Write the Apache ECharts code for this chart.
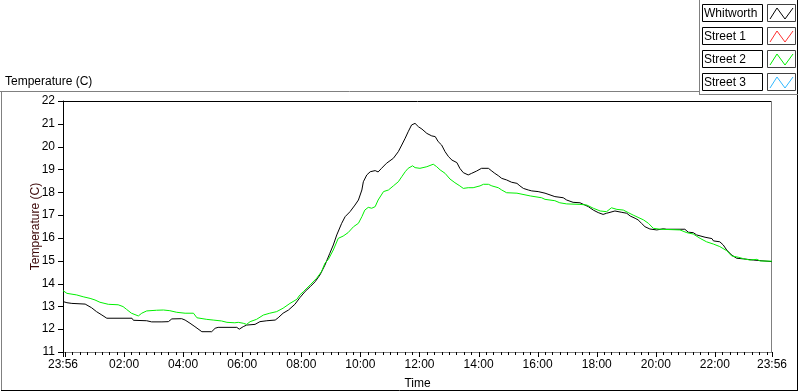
<!DOCTYPE html>
<html>
<head>
<meta charset="utf-8">
<script src="https://cdn.jsdelivr.net/npm/echarts@6/dist/echarts.min.js"></script>
<style>
html,body{margin:0;padding:0;background:#fff;}
#chart{width:800px;height:392px;}
</style>
</head>
<body>
<div id="chart"></div>
<script>
// ---------------- DATA ----------------
const seriesNames = ['Whitworth', 'Street 1', 'Street 2', 'Street 3'];

// time in minutes after 00:00 (axis runs from 23:56 the day before to 23:56)
const whitworthTime = [-4,4,14,41,54,64,75,85,136,139,166,176,197,210,217,237,244,254,264,278,298,305,311,349,354,362,369,386,396,410,427,433,443,454,467,477,488,498,508,518,528,538,545,552,562,569,579,589,596,603,606,613,620,630,636,643,653,667,677,684,691,697,704,711,718,725,735,745,752,758,765,772,779,786,796,802,809,819,826,836,846,860,867,873,880,887,897,907,918,924,931,941,948,961,975,978,995,1012,1019,1032,1046,1053,1063,1073,1083,1093,1100,1107,1117,1131,1141,1148,1158,1164,1171,1178,1188,1202,1215,1222,1259,1266,1276,1283,1300,1314,1317,1330,1337,1344,1354,1364,1378,1398,1436];
const whitworthTemp = [13.21,13.16,13.13,13.10,12.94,12.77,12.62,12.48,12.48,12.39,12.37,12.32,12.32,12.33,12.45,12.46,12.40,12.26,12.11,11.89,11.89,12.04,12.08,12.08,12.00,12.11,12.18,12.21,12.33,12.37,12.40,12.50,12.70,12.84,13.09,13.38,13.66,13.86,14.08,14.38,14.81,15.33,15.69,16.13,16.64,16.93,17.15,17.44,17.66,18.10,18.46,18.76,18.90,18.95,18.89,19.05,19.27,19.49,19.78,20.07,20.37,20.65,20.95,21.02,20.87,20.77,20.58,20.47,20.44,20.22,20.07,19.78,19.56,19.41,19.30,19.05,18.86,18.76,18.83,18.93,19.05,19.05,18.93,18.83,18.73,18.61,18.54,18.44,18.39,18.28,18.17,18.10,18.06,18.03,17.96,17.91,17.81,17.76,17.66,17.56,17.54,17.47,17.37,17.22,17.11,17.03,17.08,17.12,17.18,17.12,17.08,16.96,16.86,16.79,16.64,16.49,16.39,16.35,16.40,16.38,16.38,16.25,16.23,16.13,16.03,15.97,15.87,15.83,15.69,15.47,15.25,15.11,15.08,15.03,14.96];

const street1Time = [];
const street1Temp = [];

const street2Time = [-4,4,24,37,51,61,71,88,108,118,125,135,149,156,166,186,200,213,227,244,261,268,288,301,318,329,345,352,362,369,376,389,403,416,430,443,457,471,477,484,498,511,521,528,535,545,555,565,575,586,596,603,609,616,623,630,636,647,657,667,677,684,691,697,706,711,721,735,748,755,762,772,782,792,802,809,819,823,829,833,843,850,860,867,880,887,897,918,921,945,948,968,975,978,995,1005,1019,1046,1060,1073,1087,1100,1110,1121,1134,1144,1154,1164,1175,1185,1195,1209,1249,1263,1276,1290,1303,1317,1330,1344,1354,1368,1378,1391,1405,1412,1436];
const street2Temp = [13.69,13.57,13.50,13.42,13.35,13.28,13.18,13.09,13.07,12.99,12.87,12.70,12.58,12.70,12.80,12.83,12.84,12.81,12.74,12.70,12.70,12.50,12.43,12.40,12.36,12.30,12.28,12.30,12.26,12.21,12.33,12.43,12.62,12.70,12.77,12.92,13.13,13.31,13.50,13.64,13.94,14.23,14.52,14.89,15.06,15.47,15.98,16.08,16.23,16.49,16.64,16.93,17.22,17.34,17.30,17.37,17.66,18.03,18.10,18.28,18.46,18.68,18.90,19.05,19.16,19.08,19.05,19.12,19.23,19.12,18.98,18.83,18.58,18.42,18.28,18.17,18.20,18.24,18.20,18.24,18.28,18.35,18.35,18.28,18.20,18.10,17.98,17.96,17.88,17.84,17.78,17.76,17.69,17.66,17.63,17.54,17.49,17.47,17.44,17.30,17.18,17.15,17.32,17.25,17.22,17.11,17.00,16.90,16.79,16.64,16.42,16.38,16.35,16.23,16.17,15.98,15.83,15.73,15.62,15.44,15.21,15.15,15.09,15.03,15.06,14.99,14.98];

const street3Time = [];
const street3Temp = [];

// axis ticks / labels
const xLabelMinutes = [-4,120,240,360,480,600,720,840,960,1080,1200,1320,1436];
const xLabelTexts = ['23:56','02:00','04:00','06:00','08:00','10:00','12:00','14:00','16:00','18:00','20:00','22:00','23:56'];
const xMajorTicks = [-4,0,120,240,360,480,600,720,840,960,1080,1200,1320,1436];
const xMinorStep = 15;
const yTickValues = [11,12,13,14,15,16,17,18,19,20,21,22];
const yMin = 11, yMax = 22, yStep = 1;
const xMin = -4, xMax = 1436;

// ---------------- STYLE ----------------
const colors = ['#000000', '#ff3030', '#00f000', '#30b8ff'];
const FONT = 'Liberation Sans, Arial, sans-serif';
const G = {left: 63, top: 101, width: 709, height: 251};
const MAJOR_LEN = 5, MINOR_LEN = 3, Y_TICK_LEN = 5;

function zip(t, v) { return t.map((x, i) => [x, v[i]]); }
const xMinorTicks = [];
for (let m = 0; m <= 1425; m += xMinorStep) if (xMajorTicks.indexOf(m) < 0) xMinorTicks.push(m);

const seriesData = [zip(whitworthTime, whitworthTemp), zip(street1Time, street1Temp), zip(street2Time, street2Temp), zip(street3Time, street3Temp)];

// legend graphics
const legendEls = [];
const legendTops = [4, 27, 50, 73];
seriesNames.forEach((n, i) => {
  const y = legendTops[i];
  legendEls.push({type: 'rect', shape: {x: 702.5, y: y + 0.5, width: 60, height: 17}, style: {fill: '#fff', stroke: '#000', lineWidth: 1}});
  legendEls.push({type: 'text', x: 704, y: y + 9.5, style: {text: n, font: '12px ' + FONT, fill: '#000', textVerticalAlign: 'middle'}});
  legendEls.push({type: 'rect', shape: {x: 767.5, y: y + 0.5, width: 28, height: 17}, style: {fill: '#fff', stroke: '#404040', lineWidth: 1}});
  legendEls.push({type: 'polyline', shape: {points: [[770, y + 15], [777, y + 4], [785, y + 15], [793, y + 4]]}, style: {stroke: colors[i], lineWidth: 1, fill: null}});
});

const gR = G.left + G.width, gB = G.top + G.height;
const frameEls = [
  {type: 'line', shape: {x1: G.left, y1: G.top + 0.5, x2: gR, y2: G.top + 0.5}, style: {stroke: '#000', lineWidth: 1}},
  {type: 'line', shape: {x1: gR - 0.5, y1: G.top, x2: gR - 0.5, y2: gB}, style: {stroke: '#808080', lineWidth: 1}},
  {type: 'line', shape: {x1: 0, y1: 91.5, x2: 699, y2: 91.5}, style: {stroke: '#808080', lineWidth: 1}},
  {type: 'line', shape: {x1: 1.5, y1: 91, x2: 1.5, y2: 391}, style: {stroke: '#808080', lineWidth: 1}},
  {type: 'line', shape: {x1: 1, y1: 390.5, x2: 798, y2: 390.5}, style: {stroke: '#000', lineWidth: 1}},
  {type: 'line', shape: {x1: 797.5, y1: 0, x2: 797.5, y2: 391}, style: {stroke: '#000', lineWidth: 1}},
  {type: 'line', shape: {x1: 699.5, y1: 0, x2: 699.5, y2: 95}, style: {stroke: '#808080', lineWidth: 1}},
  {type: 'line', shape: {x1: 699, y1: 94.5, x2: 798, y2: 94.5}, style: {stroke: '#808080', lineWidth: 1}},
  {type: 'text', x: 5, y: 82, style: {text: 'Temperature (C)', font: '12px ' + FONT, fill: '#000', textVerticalAlign: 'middle'}},
  {type: 'text', x: G.left + G.width / 2, y: 384, style: {text: 'Time', font: '12px ' + FONT, fill: '#000', textAlign: 'center', textVerticalAlign: 'middle'}}
];

// tick marks drawn through the axes' own scales (custom series, not clipped)
function xTickSeries(values, len) {
  return {
    type: 'custom', xAxisIndex: 0, yAxisIndex: 0, clip: false, silent: true, z: 5,
    data: values.map(v => [v, yMin]),
    renderItem: (params, api) => {
      const p = api.coord([api.value(0), yMin]);
      const x = Math.round(p[0]) + 0.5;
      return {type: 'line', shape: {x1: x, y1: p[1], x2: x, y2: p[1] + len}, style: {stroke: '#000', lineWidth: 1}};
    }
  };
}
const yTickSeries = {
  type: 'custom', xAxisIndex: 0, yAxisIndex: 0, clip: false, silent: true, z: 5,
  data: yTickValues.map(v => [xMin, v]),
  renderItem: (params, api) => {
    const p = api.coord([xMin, api.value(1)]);
    const y = Math.round(p[1]) + 0.5;
    return {type: 'line', shape: {x1: p[0] - Y_TICK_LEN, y1: y, x2: p[0], y2: y}, style: {stroke: '#000', lineWidth: 1}};
  }
};

const chart = echarts.init(document.getElementById('chart'), null, {renderer: 'canvas'});
chart.setOption({
  animation: false,
  grid: {left: G.left, top: G.top, width: G.width, height: G.height},
  xAxis: [
    {
      type: 'value', min: xMin, max: xMax,
      axisLine: {show: true, onZero: false, lineStyle: {color: '#808080', width: 1}},
      axisTick: {show: false},
      axisLabel: {customValues: xLabelMinutes, formatter: v => xLabelTexts[xLabelMinutes.indexOf(v)] || '', margin: 7, fontSize: 12, color: '#000', fontFamily: FONT},
      splitLine: {show: false}
    }
  ],
  yAxis: [
    {
      type: 'value', min: yMin, max: yMax, interval: yStep,
      axisLine: {show: true, onZero: false, lineStyle: {color: '#000', width: 1}},
      axisTick: {show: false},
      axisLabel: {margin: 8, fontSize: 12, color: '#000', fontFamily: FONT},
      splitLine: {show: false},
      name: 'Temperature (C)', nameLocation: 'middle', nameGap: 21, nameMoveOverlap: false,
      nameTextStyle: {fontSize: 12, color: '#3c0808', fontFamily: FONT}
    }
  ],
  series: seriesNames.map((n, i) => ({
    name: n, type: 'line', xAxisIndex: 0, yAxisIndex: 0,
    data: seriesData[i], showSymbol: false, symbol: 'none',
    lineStyle: {color: colors[i], width: 1}, itemStyle: {color: colors[i]}
  })).concat([xTickSeries(xMajorTicks, MAJOR_LEN), xTickSeries(xMinorTicks, MINOR_LEN), yTickSeries]),
  graphic: frameEls.concat(legendEls)
});
</script>
</body>
</html>
